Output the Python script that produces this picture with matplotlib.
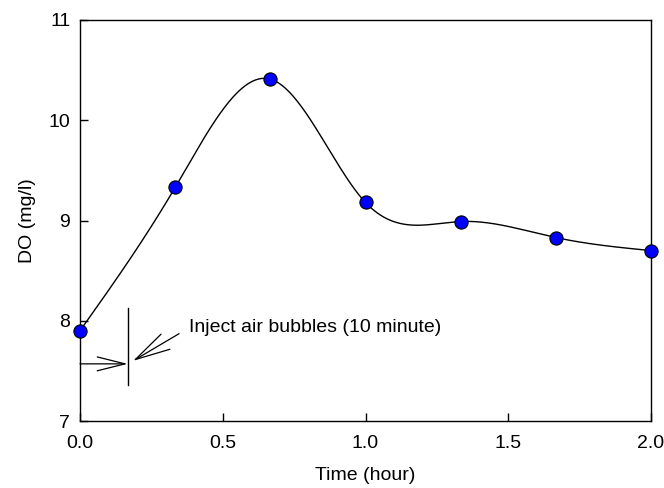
import numpy as np
import matplotlib
matplotlib.use("Agg")
import matplotlib.pyplot as plt

plt.rcParams['font.family'] = ['Liberation Sans', 'DejaVu Sans']

# DO measurements over time
time_h = [0.0, 1 / 3, 2 / 3, 1.0, 4 / 3, 5 / 3, 2.0]
do_mg = [7.90, 9.33, 10.41, 9.18, 8.99, 8.83, 8.70]

# air injection period (10 minutes)
inject_end = 1 / 6
inject_level = 7.57
inject_bar = [7.36, 8.13]
note_text = "Inject air bubbles (10 minute)"


def natural_spline(x, y, xs):
    # natural cubic spline through the points, for the smooth curve
    x = np.asarray(x, float)
    y = np.asarray(y, float)
    n = len(x)
    h = np.diff(x)
    A = np.zeros((n, n))
    b = np.zeros(n)
    A[0, 0] = A[-1, -1] = 1
    for i in range(1, n - 1):
        A[i, i - 1] = h[i - 1]
        A[i, i] = 2 * (h[i - 1] + h[i])
        A[i, i + 1] = h[i]
        b[i] = 3 * ((y[i + 1] - y[i]) / h[i] - (y[i] - y[i - 1]) / h[i - 1])
    c = np.linalg.solve(A, b)
    idx = np.clip(np.searchsorted(x, xs) - 1, 0, n - 2)
    dx = xs - x[idx]
    bb = (y[idx + 1] - y[idx]) / h[idx] - h[idx] * (2 * c[idx] + c[idx + 1]) / 3
    dd = (c[idx + 1] - c[idx]) / (3 * h[idx])
    return y[idx] + bb * dx + c[idx] * dx ** 2 + dd * dx ** 3


fig = plt.figure(figsize=(6.64, 4.88), dpi=100)
ax = fig.add_axes([80 / 664, 1 - 421 / 488, 571 / 664, 401 / 488])

xs = np.linspace(time_h[0], time_h[-1], 400)
ax.plot(xs, natural_spline(time_h, do_mg, xs), color='black', lw=1.0, zorder=2)
ax.plot(time_h, do_mg, 'o', ms=9.5, mfc='#0000ff', mec='black', mew=0.8,
        zorder=3, clip_on=False)

# injection marker
ax.plot([inject_end, inject_end], inject_bar, color='black', lw=1.0)
ax.annotate('', xy=(inject_end, inject_level), xytext=(0, inject_level),
            arrowprops=dict(arrowstyle='->,head_length=2.0,head_width=0.5',
                            color='black', lw=0.9, shrinkA=0, shrinkB=0))
ax.annotate(note_text, xy=(0.186, 7.60), xytext=(0.382, 7.93),
            fontsize=14, va='center', ha='left',
            arrowprops=dict(arrowstyle='->,head_length=1.8,head_width=0.45',
                            color='black', lw=0.9, shrinkA=6, shrinkB=0,
                            relpos=(0, 0.5)))

ax.set_xlim(0, 2.0)
ax.set_ylim(7, 11)
ax.set_xticks([0.0, 0.5, 1.0, 1.5, 2.0])
ax.set_yticks([7, 8, 9, 10, 11])
ax.set_xticklabels(['0.0', '0.5', '1.0', '1.5', '2.0'])
ax.tick_params(direction='in', length=6, width=1, labelsize=14, top=False, right=False)
ax.tick_params(axis='x', pad=10)
ax.tick_params(axis='y', pad=7)
for s in ax.spines.values():
    s.set_linewidth(1.0)
ax.set_xlabel('Time (hour)', fontsize=14, labelpad=11)
ax.set_ylabel('DO (mg/l)', fontsize=14, labelpad=9)

fig.savefig('out.png', dpi=100)
